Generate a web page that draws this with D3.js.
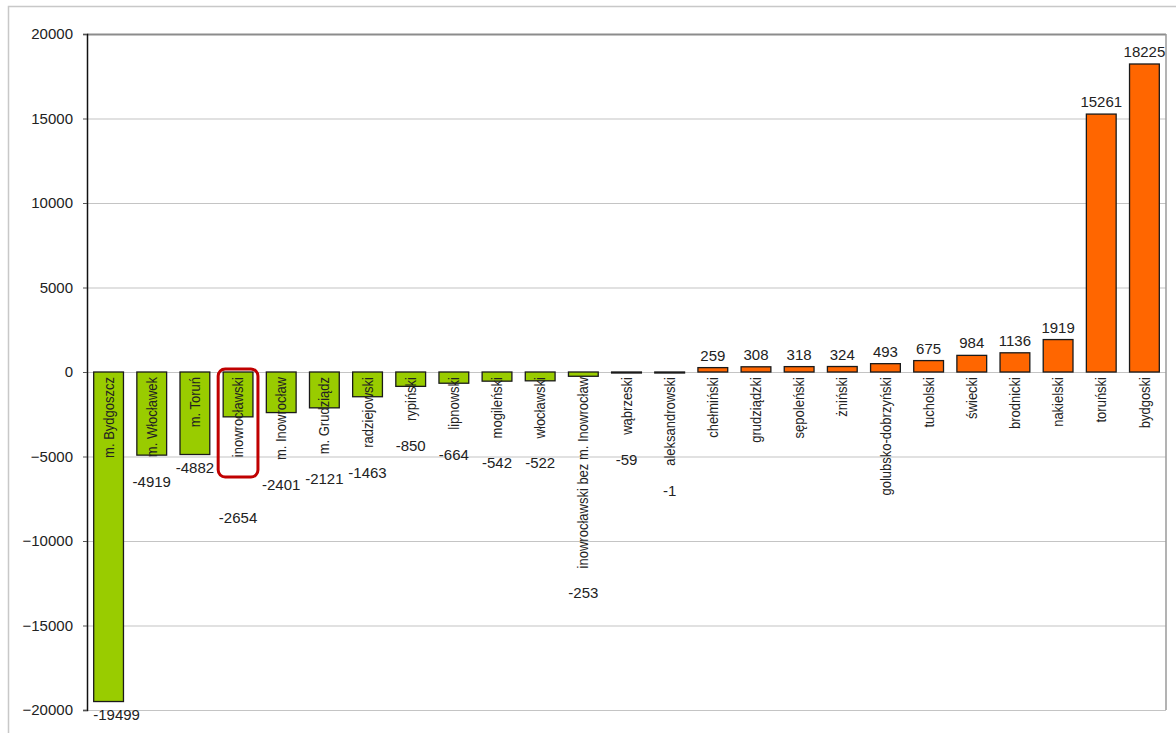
<!DOCTYPE html>
<html><head><meta charset="utf-8">
<script src="https://cdn.jsdelivr.net/npm/d3@7"></script>
<style>body{margin:0;background:#fff;font-family:"Liberation Sans",Arial,sans-serif;}</style>
</head><body>
<svg id="c" width="1176" height="733"></svg>
<script>
const categories = ["m. Bydgoszcz","m. Włocławek","m. Toruń","inowrocławski","m. Inowrocław","m. Grudziądz","radziejowski","rypiński","lipnowski","mogileński","włocławski","inowrocławski bez m. Inowrocław","wąbrzeski","aleksandrowski","chełmiński","grudziądzki","sępoleński","żniński","golubsko-dobrzyński","tucholski","świecki","brodnicki","nakielski","toruński","bydgoski"];
const values = [-19499,-4919,-4882,-2654,-2401,-2121,-1463,-850,-664,-542,-522,-253,-59,-1,259,308,318,324,493,675,984,1136,1919,15261,18225];
const yTicks = [20000,15000,10000,5000,0,-5000,-10000,-15000,-20000];
const highlighted = ["inowrocławski"];

const svg = d3.select("#c");
const L = 87, R = 1166, T = 34, B = 710;

// outer frame
svg.append("path").attr("d","M8.5,733 V6.5 H1176").attr("fill","none").attr("stroke","#c8c8c8").attr("stroke-width",1.5);

const x = d3.scaleBand().domain(categories).range([L,R]).paddingInner(0.31).paddingOuter(0.155);
const y = d3.scaleLinear().domain([-20000,20000]).range([B,T]);

// grid
svg.append("g").selectAll("line").data(yTicks).join("line")
  .attr("x1",L).attr("x2",R).attr("y1",d=>y(d)+0.5).attr("y2",d=>y(d)+0.5)
  .attr("stroke",d=>d===20000?"#8c8c8c":"#c4c4c4").attr("stroke-width",d=>d===20000?2:1.2);
// right border
svg.append("line").attr("x1",R).attr("x2",R).attr("y1",T).attr("y2",B).attr("stroke","#9a9a9a").attr("stroke-width",1.5);

// y axis
const ax = svg.append("g").attr("transform",`translate(${L},0)`)
  .call(d3.axisLeft(y).tickValues(yTicks).tickSize(4).tickPadding(10).tickFormat(d3.format("d")));
ax.select(".domain").attr("stroke","#111").attr("stroke-width",1.5);
ax.selectAll(".tick line").attr("stroke","#555");
ax.selectAll("text").attr("font-size",15).attr("fill","#222").attr("font-family","Liberation Sans, Arial, sans-serif");

// bars
svg.append("g").selectAll("rect").data(values).join("rect")
  .attr("x",(d,i)=>x(categories[i]))
  .attr("width",x.bandwidth())
  .attr("y",d=>y(Math.max(0,d)))
  .attr("height",d=>Math.max(Math.abs(y(d)-y(0)),1))
  .attr("fill",d=>d<0?"#99cc00":"#ff6600")
  .attr("stroke","#1a1a1a").attr("stroke-width",1.3);

// category labels (rotated, reading upwards, ending just below zero line)
const cat = svg.append("g").selectAll("text").data(categories).join("text")
  .attr("transform",c=>`translate(${x(c)+x.bandwidth()/2},${y(0)+5}) rotate(-90) scale(1,1.12)`)
  .attr("text-anchor","end")
  .attr("dy","0.35em").attr("font-size",13).attr("fill","#222").text(c=>c);

const lens = [];
cat.each(function(){ lens.push(this.getComputedTextLength()); });

const boxH = 108;
// value labels
svg.append("g").selectAll("text").data(values).join("text")
  .attr("x",(d,i)=>x(categories[i])+x.bandwidth()/2 + (i===0?8:0))
  .attr("y",(d,i)=>{
     if(d>=0) return y(d)-7;
     if(highlighted.includes(categories[i])) return y(0)-3+boxH+46;
     const textEnd = y(0)+5+lens[i];
     const barEnd = y(d);
     return barEnd>textEnd ? barEnd+18 : textEnd+30;
  })
  .attr("text-anchor","middle").attr("font-size",15).attr("fill","#222")
  .text(d=>d);

// highlight box
svg.append("g").selectAll("rect").data(highlighted).join("rect")
  .attr("x",c=>x(c)-5).attr("width",x.bandwidth()+10)
  .attr("y",y(0)-3).attr("height",boxH).attr("rx",7)
  .attr("fill","none").attr("stroke","#c00000").attr("stroke-width",3);
</script>
</body></html>
